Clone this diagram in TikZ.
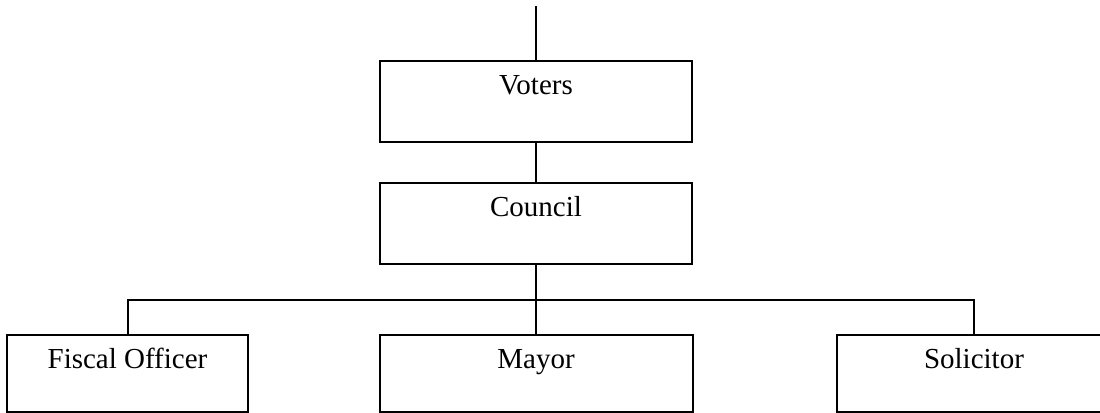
\documentclass[tikz,border=0pt]{standalone}
\usepackage{fontspec}
\setmainfont{Liberation Serif}
\tikzset{
    orgbox/.style={draw, line width=1pt, inner sep=0pt, text height=17pt},
    toprow/.style={orgbox, minimum width=156pt, text depth=23.5pt},
    lowrow/.style={orgbox, text depth=21.35pt},
    link/.style={line width=1pt}
}
\begin{document}
\begin{tikzpicture}[x=0.5pt,y=-0.5pt]%Organigrama municipal
        \clip (0,0) rectangle (1100,413);
        \fontsize{14.5}{17}\selectfont

        \node[toprow] (voters) at (536,101) {Voters};
        \node[toprow] (council) at (536,223) {Council};

        \node[lowrow, minimum width=120.5pt] (fiscal) at (127.5,373.3) {Fiscal Officer};
        \node[lowrow, minimum width=156.5pt] (mayor) at (536,373.3) {Mayor};
        \node[lowrow, minimum width=136.7pt] (solicitor) at (974,373.3) {Solicitor};

        \coordinate (top) at (536,6);
        \coordinate (bar) at (536,300);

        \draw[link] (top) -- (voters.north);
        \draw[link] (voters.south) -- (council.north);
        \draw[link] (council.south) -- (mayor.north);
        \draw[link] (fiscal.north) |- (bar) -| (solicitor.north);
    \end{tikzpicture}
\end{document}
